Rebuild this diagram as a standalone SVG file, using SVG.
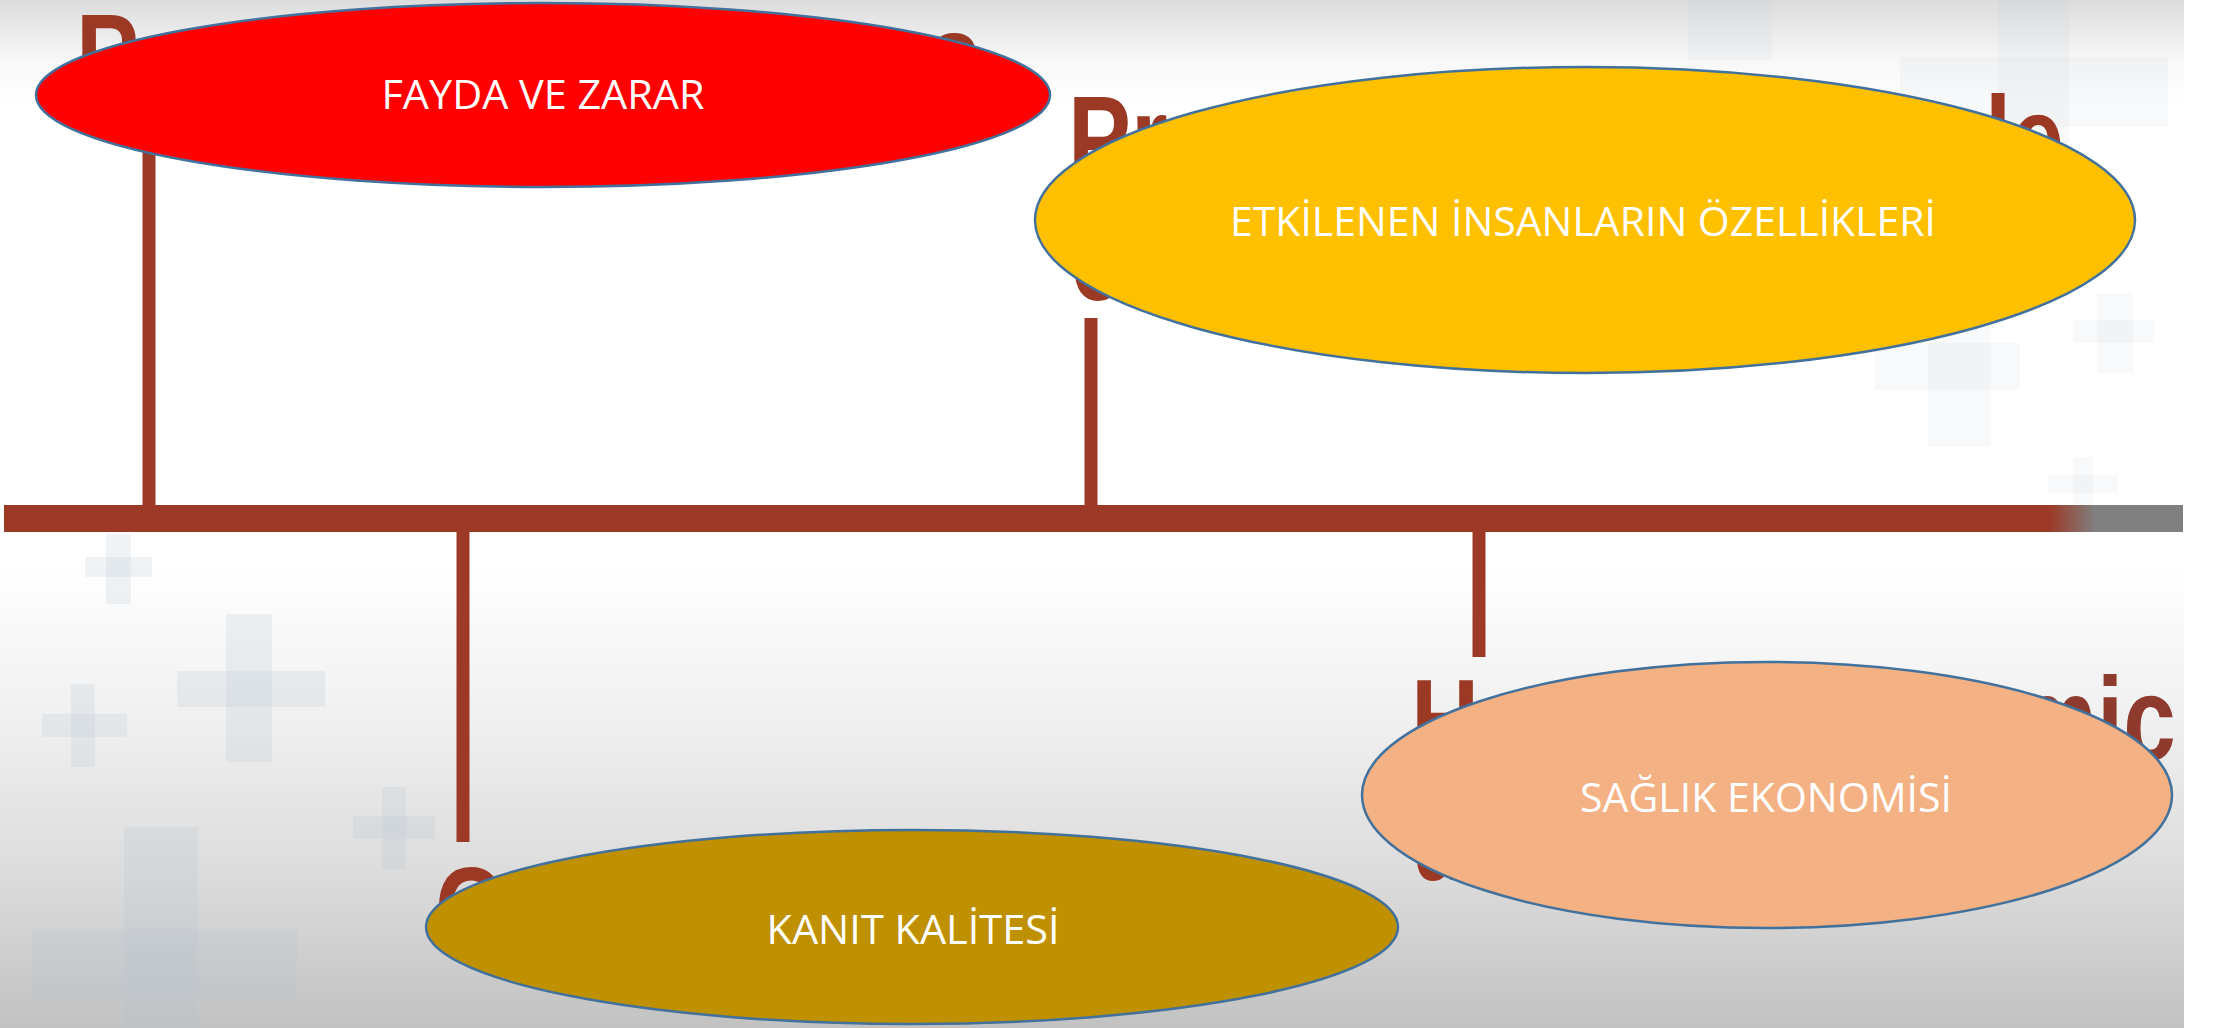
<svg xmlns="http://www.w3.org/2000/svg" width="2216" height="1028" viewBox="0 0 2216 1028">
<defs>
<linearGradient id="bg" x1="0" y1="0" x2="0" y2="1">
<stop offset="0" stop-color="#dcdcdc"/>
<stop offset="0.06" stop-color="#f8f8f8"/>
<stop offset="0.1" stop-color="#ffffff"/>
<stop offset="0.55" stop-color="#ffffff"/>
<stop offset="0.7" stop-color="#f0f0f0"/>
<stop offset="0.85" stop-color="#dcdcdc"/>
<stop offset="1" stop-color="#c2c2c2"/>
</linearGradient>
<linearGradient id="bar" gradientUnits="userSpaceOnUse" x1="2050" y1="0" x2="2095" y2="0">
<stop offset="0" stop-color="#9d3a27"/>
<stop offset="1" stop-color="#808080"/>
</linearGradient>
<linearGradient id="mic" gradientUnits="userSpaceOnUse" x1="2118" y1="0" x2="2132" y2="0">
<stop offset="0" stop-color="#8e3a2c"/>
<stop offset="1" stop-color="#707070"/>
</linearGradient>
<style>
.cross{fill:#b6c2d0;opacity:0.2}
.cross.faint{opacity:0.1}
.frag{font-family:"Liberation Sans",Arial,sans-serif;font-weight:bold;font-size:118px;fill:#9b3925}
.stem{stroke:#9d3a27;stroke-width:13;fill:none}
.node ellipse{stroke:#41719c;stroke-width:2.5}
.lbl{font-family:"Open Sans","Liberation Sans",sans-serif;font-size:40px;fill:#ffffff;text-anchor:middle}
</style>
</defs>
<rect x="0" y="0" width="2216" height="1028" fill="url(#bg)"/>
<rect x="2184" y="0" width="32" height="1028" fill="#ffffff"/>
<g id="background-crosses">
<rect class="cross faint" x="1900" y="57" width="268" height="70"/>
<rect class="cross faint" x="1998" y="0" width="71" height="180"/>
<rect class="cross faint" x="1688" y="0" width="84" height="60"/>
<rect class="cross faint" x="2073" y="320" width="81" height="23"/>
<rect class="cross faint" x="2097" y="293" width="36" height="80"/>
<rect class="cross faint" x="1875" y="343" width="145" height="47"/>
<rect class="cross faint" x="1928" y="283" width="63" height="164"/>
<rect class="cross faint" x="2048" y="475" width="70" height="18"/>
<rect class="cross faint" x="2073" y="457" width="20" height="56"/>
<rect class="cross" x="85" y="557" width="67" height="20"/>
<rect class="cross" x="106" y="534" width="25" height="70"/>
<rect class="cross" x="177" y="671" width="148" height="36"/>
<rect class="cross" x="226" y="614" width="46" height="148"/>
<rect class="cross" x="42" y="714" width="85" height="23"/>
<rect class="cross" x="71" y="684" width="24" height="83"/>
<rect class="cross" x="353" y="816" width="82" height="23"/>
<rect class="cross" x="382" y="787" width="24" height="82"/>
<rect class="cross" x="32" y="929" width="265" height="70"/>
<rect class="cross" x="124" y="827" width="74" height="201"/>
</g>
<g id="background-letters">
<text class="frag" transform="translate(76,97) scale(0.8,1)">P</text>
<text class="frag" transform="translate(928,97) scale(0.8,1)">s</text>
<text class="frag" transform="translate(1068,179) scale(0.8,1)">Pr</text>
<text class="frag" transform="translate(1071,300) scale(0.8,1)">c</text>
<text class="frag" transform="translate(1985,179) scale(0.8,1)">le</text>
<text class="frag" transform="translate(435,950) scale(0.8,1)">C</text>
<text class="frag" transform="translate(1411,762) scale(0.8,1)">H</text>
<text class="frag" transform="translate(1411,880) scale(0.8,1)">u</text>
<text class="frag" transform="translate(2013,760) scale(0.8,1)" style="fill:url(#mic)">mic</text>
</g>
<g id="connectors">
<rect x="4" y="505" width="2179" height="27" fill="url(#bar)"/>
<line class="stem" x1="149" y1="140" x2="149" y2="510"/>
<line class="stem" x1="1091" y1="318" x2="1091" y2="510"/>
<line class="stem" x1="463" y1="528" x2="463" y2="842"/>
<line class="stem" x1="1479" y1="528" x2="1479" y2="657"/>
</g>
<g id="node-fayda" class="node">
<ellipse cx="543" cy="95" rx="507" ry="92" fill="#ff0000"/>
<text class="lbl" x="543" y="109" textLength="323" lengthAdjust="spacingAndGlyphs">FAYDA VE ZARAR</text>
</g>
<g id="node-etkilenen" class="node">
<ellipse cx="1585" cy="220" rx="550" ry="153" fill="#ffc000"/>
<text class="lbl" x="1583" y="236" textLength="706" lengthAdjust="spacingAndGlyphs">ETKİLENEN İNSANLARIN ÖZELLİKLERİ</text>
</g>
<g id="node-kanit" class="node">
<ellipse cx="912" cy="927" rx="486" ry="97" fill="#bf9000"/>
<text class="lbl" x="913" y="944" textLength="293" lengthAdjust="spacingAndGlyphs">KANIT KALİTESİ</text>
</g>
<g id="node-saglik" class="node">
<ellipse cx="1767" cy="795" rx="405" ry="133" fill="#f4b183"/>
<text class="lbl" x="1766" y="812" textLength="372" lengthAdjust="spacingAndGlyphs">SAĞLIK EKONOMİSİ</text>
</g>
</svg>
